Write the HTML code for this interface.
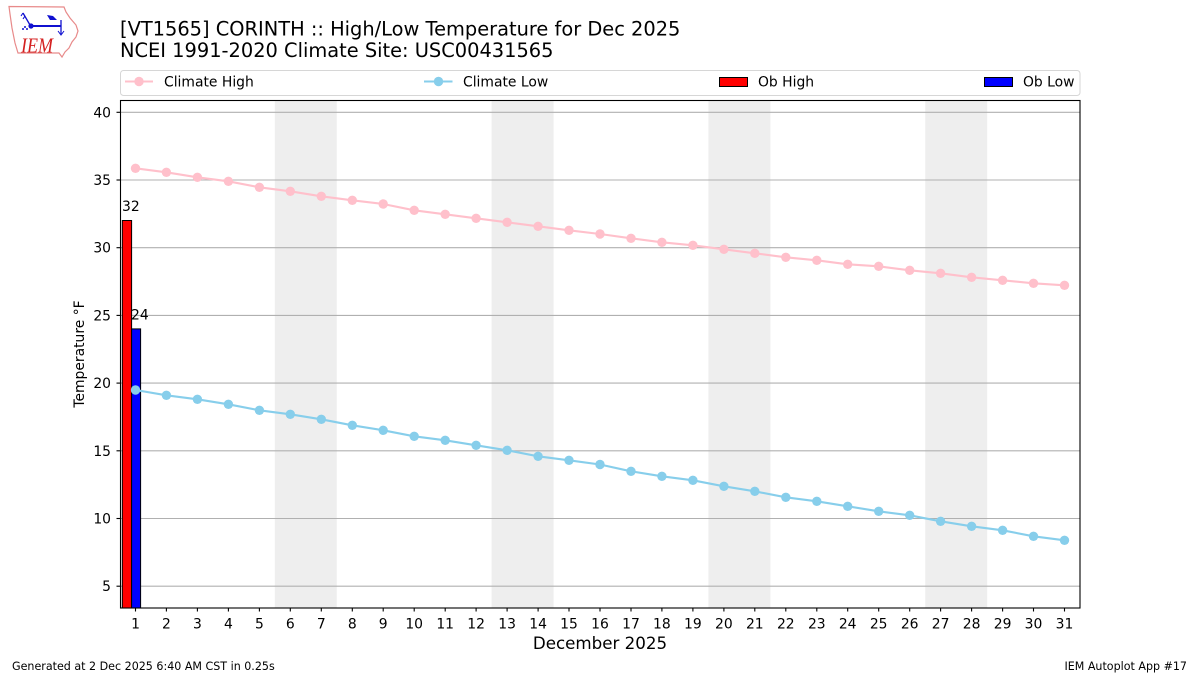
<!DOCTYPE html>
<html><head><meta charset="utf-8"><style>
html,body{margin:0;padding:0;background:#fff;}
svg{display:block;}
text{font-family:"DejaVu Sans","Liberation Sans",sans-serif;fill:#000;}
</style></head><body>
<svg width="1200" height="675" viewBox="0 0 1200 675" xmlns="http://www.w3.org/2000/svg">
<rect x="0" y="0" width="1200" height="675" fill="#fff"/>
<!-- logo -->
<g>
<path d="M9,6.5 L64,7 L66,12 L70,18 L76,25 L78,31 L76,37 L72,42 L69,48 L65,52 L62,57 L59,53 L18,53 L15,43 L12,28 L10,14 Z" fill="none" stroke="#e88a8a" stroke-width="1.2"/>
<line x1="30" y1="26" x2="61" y2="26" stroke="#1010d0" stroke-width="2"/>
<circle cx="31" cy="26" r="2.6" fill="#1010d0"/>
<line x1="30" y1="25" x2="23" y2="13" stroke="#1010d0" stroke-width="1.3"/>
<line x1="23" y1="13" x2="21" y2="16" stroke="#1010d0" stroke-width="1.1"/>
<line x1="25" y1="16" x2="23" y2="19" stroke="#1010d0" stroke-width="1.1"/>
<path d="M47,15 L53,16 L57,20 L50,20 Z" fill="#1010d0"/>
<line x1="61" y1="20" x2="61" y2="34" stroke="#1010d0" stroke-width="1.3"/>
<path d="M58,31 L61,35 L64,31" fill="none" stroke="#1010d0" stroke-width="1"/>
<circle cx="25" cy="27" r="1" fill="#1010d0"/><circle cx="23" cy="29" r="1" fill="#1010d0"/><circle cx="27" cy="29" r="1" fill="#1010d0"/>
<text x="21" y="52.5" textLength="32" lengthAdjust="spacingAndGlyphs" style="font-family:'Liberation Serif',serif;font-style:italic;font-size:21px;fill:#d42020;">IEM</text>
</g>
<!-- titles -->
<text x="120" y="35.5" style="font-size:19.4px">[VT1565] CORINTH :: High/Low Temperature for Dec 2025</text>
<text x="120" y="57" style="font-size:19.4px">NCEI 1991-2020 Climate Site: USC00431565</text>
<!-- legend -->
<rect x="120.5" y="70.5" width="959.5" height="25" rx="3" ry="3" fill="#fff" stroke="#d6d6d6" stroke-width="1"/>
<line x1="125" y1="81.5" x2="153" y2="81.5" stroke="#ffc0cb" stroke-width="2"/>
<circle cx="139" cy="81.5" r="4.7" fill="#ffc0cb"/>
<text x="164" y="86.5" style="font-size:13.9px">Climate High</text>
<line x1="424" y1="81.5" x2="452.5" y2="81.5" stroke="#87ceeb" stroke-width="2"/>
<circle cx="438.5" cy="81.5" r="4.7" fill="#87ceeb"/>
<text x="463" y="86.5" style="font-size:13.9px">Climate Low</text>
<rect x="719.5" y="77.5" width="28" height="9" fill="#ff0000" stroke="#000" stroke-width="1"/>
<text x="758" y="86.5" style="font-size:13.9px">Ob High</text>
<rect x="984.5" y="77.5" width="28" height="9" fill="#0000ff" stroke="#000" stroke-width="1"/>
<text x="1023" y="86.5" style="font-size:13.9px">Ob Low</text>
<!-- plot area -->
<defs><clipPath id="pa"><rect x="120" y="100.5" width="960" height="507.5"/></clipPath></defs>
<g clip-path="url(#pa)">
<rect x="274.8" y="100" width="62" height="508" fill="#eeeeee"/>
<rect x="491.6" y="100" width="62" height="508" fill="#eeeeee"/>
<rect x="708.4" y="100" width="62" height="508" fill="#eeeeee"/>
<rect x="925.2" y="100" width="62" height="508" fill="#eeeeee"/>
<g stroke="#b0b0b0" stroke-width="1.1">
<line x1="120" y1="112.3" x2="1080" y2="112.3"/>
<line x1="120" y1="180" x2="1080" y2="180"/>
<line x1="120" y1="247.7" x2="1080" y2="247.7"/>
<line x1="120" y1="315.4" x2="1080" y2="315.4"/>
<line x1="120" y1="383.1" x2="1080" y2="383.1"/>
<line x1="120" y1="450.8" x2="1080" y2="450.8"/>
<line x1="120" y1="518.5" x2="1080" y2="518.5"/>
<line x1="120" y1="586.2" x2="1080" y2="586.2"/>
</g>
<rect x="122.3" y="220.5" width="9.3" height="400" fill="#ff0000" stroke="#000" stroke-width="1"/>
<rect x="131.6" y="328.9" width="9.0" height="300" fill="#0000ff" stroke="#000" stroke-width="1"/>
<polyline fill="none" stroke="#ffc0cb" stroke-width="2.1" points="135.5,168.3 166.4,172.3 197.4,177.3 228.4,181.3 259.4,187.3 290.3,191.3 321.3,196.3 352.3,200.3 383.2,204 414.2,210.3 445.2,214.3 476.1,218.3 507.1,222.3 538.1,226.3 569.0,230.3 600.0,234 631.0,238.3 661.9,242.3 692.9,245.3 723.9,249.3 754.8,253.3 785.8,257.3 816.8,260.3 847.7,264.3 878.7,266.3 909.7,270.3 940.6,273.3 971.6,277.3 1002.6,280.3 1033.5,283.3 1064.5,285.3"/>
<g fill="#ffc0cb">
<circle cx="135.5" cy="168.3" r="4.7"/><circle cx="166.4" cy="172.3" r="4.7"/><circle cx="197.4" cy="177.3" r="4.7"/><circle cx="228.4" cy="181.3" r="4.7"/><circle cx="259.4" cy="187.3" r="4.7"/><circle cx="290.3" cy="191.3" r="4.7"/><circle cx="321.3" cy="196.3" r="4.7"/><circle cx="352.3" cy="200.3" r="4.7"/><circle cx="383.2" cy="204" r="4.7"/><circle cx="414.2" cy="210.3" r="4.7"/><circle cx="445.2" cy="214.3" r="4.7"/><circle cx="476.1" cy="218.3" r="4.7"/><circle cx="507.1" cy="222.3" r="4.7"/><circle cx="538.1" cy="226.3" r="4.7"/><circle cx="569.0" cy="230.3" r="4.7"/><circle cx="600.0" cy="234" r="4.7"/><circle cx="631.0" cy="238.3" r="4.7"/><circle cx="661.9" cy="242.3" r="4.7"/><circle cx="692.9" cy="245.3" r="4.7"/><circle cx="723.9" cy="249.3" r="4.7"/><circle cx="754.8" cy="253.3" r="4.7"/><circle cx="785.8" cy="257.3" r="4.7"/><circle cx="816.8" cy="260.3" r="4.7"/><circle cx="847.7" cy="264.3" r="4.7"/><circle cx="878.7" cy="266.3" r="4.7"/><circle cx="909.7" cy="270.3" r="4.7"/><circle cx="940.6" cy="273.3" r="4.7"/><circle cx="971.6" cy="277.3" r="4.7"/><circle cx="1002.6" cy="280.3" r="4.7"/><circle cx="1033.5" cy="283.3" r="4.7"/><circle cx="1064.5" cy="285.3" r="4.7"/>
</g>
<polyline fill="none" stroke="#87ceeb" stroke-width="2.1" points="135.5,390 166.4,395.3 197.4,399.3 228.4,404.3 259.4,410.3 290.3,414.3 321.3,419.3 352.3,425.3 383.2,430.3 414.2,436.3 445.2,440.3 476.1,445.3 507.1,450.3 538.1,456.3 569.0,460.3 600.0,464.5 631.0,471.3 661.9,476.3 692.9,480.3 723.9,486.3 754.8,491.3 785.8,497.3 816.8,501.3 847.7,506.3 878.7,511.3 909.7,515.3 940.6,521.3 971.6,526.3 1002.6,530.3 1033.5,536.3 1064.5,540.3"/>
<g fill="#87ceeb">
<circle cx="135.5" cy="390" r="4.7"/><circle cx="166.4" cy="395.3" r="4.7"/><circle cx="197.4" cy="399.3" r="4.7"/><circle cx="228.4" cy="404.3" r="4.7"/><circle cx="259.4" cy="410.3" r="4.7"/><circle cx="290.3" cy="414.3" r="4.7"/><circle cx="321.3" cy="419.3" r="4.7"/><circle cx="352.3" cy="425.3" r="4.7"/><circle cx="383.2" cy="430.3" r="4.7"/><circle cx="414.2" cy="436.3" r="4.7"/><circle cx="445.2" cy="440.3" r="4.7"/><circle cx="476.1" cy="445.3" r="4.7"/><circle cx="507.1" cy="450.3" r="4.7"/><circle cx="538.1" cy="456.3" r="4.7"/><circle cx="569.0" cy="460.3" r="4.7"/><circle cx="600.0" cy="464.5" r="4.7"/><circle cx="631.0" cy="471.3" r="4.7"/><circle cx="661.9" cy="476.3" r="4.7"/><circle cx="692.9" cy="480.3" r="4.7"/><circle cx="723.9" cy="486.3" r="4.7"/><circle cx="754.8" cy="491.3" r="4.7"/><circle cx="785.8" cy="497.3" r="4.7"/><circle cx="816.8" cy="501.3" r="4.7"/><circle cx="847.7" cy="506.3" r="4.7"/><circle cx="878.7" cy="511.3" r="4.7"/><circle cx="909.7" cy="515.3" r="4.7"/><circle cx="940.6" cy="521.3" r="4.7"/><circle cx="971.6" cy="526.3" r="4.7"/><circle cx="1002.6" cy="530.3" r="4.7"/><circle cx="1033.5" cy="536.3" r="4.7"/><circle cx="1064.5" cy="540.3" r="4.7"/>
</g>
</g>
<!-- bar labels -->
<text x="122" y="211" style="font-size:13.9px">32</text>
<text x="131" y="319.5" style="font-size:13.9px">24</text>
<!-- spines -->
<rect x="120.5" y="100.5" width="959.5" height="507.5" fill="none" stroke="#000" stroke-width="1.1"/>
<!-- y ticks -->
<g stroke="#000" stroke-width="1.1">
<line x1="116.5" y1="112.3" x2="120" y2="112.3"/><line x1="116.5" y1="180" x2="120" y2="180"/><line x1="116.5" y1="247.7" x2="120" y2="247.7"/><line x1="116.5" y1="315.4" x2="120" y2="315.4"/><line x1="116.5" y1="383.1" x2="120" y2="383.1"/><line x1="116.5" y1="450.8" x2="120" y2="450.8"/><line x1="116.5" y1="518.5" x2="120" y2="518.5"/><line x1="116.5" y1="586.2" x2="120" y2="586.2"/>
</g>
<g style="font-size:13.9px" text-anchor="end">
<text x="111" y="117.3">40</text><text x="111" y="185">35</text><text x="111" y="252.7">30</text><text x="111" y="320.4">25</text><text x="111" y="388.1">20</text><text x="111" y="455.8">15</text><text x="111" y="523.5">10</text><text x="111" y="591.2">5</text>
</g>
<text transform="translate(84,354) rotate(-90)" text-anchor="middle" style="font-size:13.9px">Temperature °F</text>
<!-- x ticks -->
<g stroke="#000" stroke-width="1.1">
<line x1="135.5" y1="608" x2="135.5" y2="611.5"/><line x1="166.4" y1="608" x2="166.4" y2="611.5"/><line x1="197.4" y1="608" x2="197.4" y2="611.5"/><line x1="228.4" y1="608" x2="228.4" y2="611.5"/><line x1="259.4" y1="608" x2="259.4" y2="611.5"/><line x1="290.3" y1="608" x2="290.3" y2="611.5"/><line x1="321.3" y1="608" x2="321.3" y2="611.5"/><line x1="352.3" y1="608" x2="352.3" y2="611.5"/><line x1="383.2" y1="608" x2="383.2" y2="611.5"/><line x1="414.2" y1="608" x2="414.2" y2="611.5"/><line x1="445.2" y1="608" x2="445.2" y2="611.5"/><line x1="476.1" y1="608" x2="476.1" y2="611.5"/><line x1="507.1" y1="608" x2="507.1" y2="611.5"/><line x1="538.1" y1="608" x2="538.1" y2="611.5"/><line x1="569" y1="608" x2="569" y2="611.5"/><line x1="600" y1="608" x2="600" y2="611.5"/><line x1="631" y1="608" x2="631" y2="611.5"/><line x1="661.9" y1="608" x2="661.9" y2="611.5"/><line x1="692.9" y1="608" x2="692.9" y2="611.5"/><line x1="723.9" y1="608" x2="723.9" y2="611.5"/><line x1="754.8" y1="608" x2="754.8" y2="611.5"/><line x1="785.8" y1="608" x2="785.8" y2="611.5"/><line x1="816.8" y1="608" x2="816.8" y2="611.5"/><line x1="847.7" y1="608" x2="847.7" y2="611.5"/><line x1="878.7" y1="608" x2="878.7" y2="611.5"/><line x1="909.7" y1="608" x2="909.7" y2="611.5"/><line x1="940.6" y1="608" x2="940.6" y2="611.5"/><line x1="971.6" y1="608" x2="971.6" y2="611.5"/><line x1="1002.6" y1="608" x2="1002.6" y2="611.5"/><line x1="1033.5" y1="608" x2="1033.5" y2="611.5"/><line x1="1064.5" y1="608" x2="1064.5" y2="611.5"/>
</g>
<g style="font-size:13.9px" text-anchor="middle">
<text x="135.5" y="628.5">1</text><text x="166.4" y="628.5">2</text><text x="197.4" y="628.5">3</text><text x="228.4" y="628.5">4</text><text x="259.4" y="628.5">5</text><text x="290.3" y="628.5">6</text><text x="321.3" y="628.5">7</text><text x="352.3" y="628.5">8</text><text x="383.2" y="628.5">9</text><text x="414.2" y="628.5">10</text><text x="445.2" y="628.5">11</text><text x="476.1" y="628.5">12</text><text x="507.1" y="628.5">13</text><text x="538.1" y="628.5">14</text><text x="569" y="628.5">15</text><text x="600" y="628.5">16</text><text x="631" y="628.5">17</text><text x="661.9" y="628.5">18</text><text x="692.9" y="628.5">19</text><text x="723.9" y="628.5">20</text><text x="754.8" y="628.5">21</text><text x="785.8" y="628.5">22</text><text x="816.8" y="628.5">23</text><text x="847.7" y="628.5">24</text><text x="878.7" y="628.5">25</text><text x="909.7" y="628.5">26</text><text x="940.6" y="628.5">27</text><text x="971.6" y="628.5">28</text><text x="1002.6" y="628.5">29</text><text x="1033.5" y="628.5">30</text><text x="1064.5" y="628.5">31</text>
</g>
<text x="600" y="649" text-anchor="middle" style="font-size:16.7px">December 2025</text>
<!-- footer -->
<text x="12" y="670" style="font-size:11.1px">Generated at 2 Dec 2025 6:40 AM CST in 0.25s</text>
<text x="1187" y="670" text-anchor="end" style="font-size:11.1px">IEM Autoplot App #17</text>
</svg>
</body></html>
